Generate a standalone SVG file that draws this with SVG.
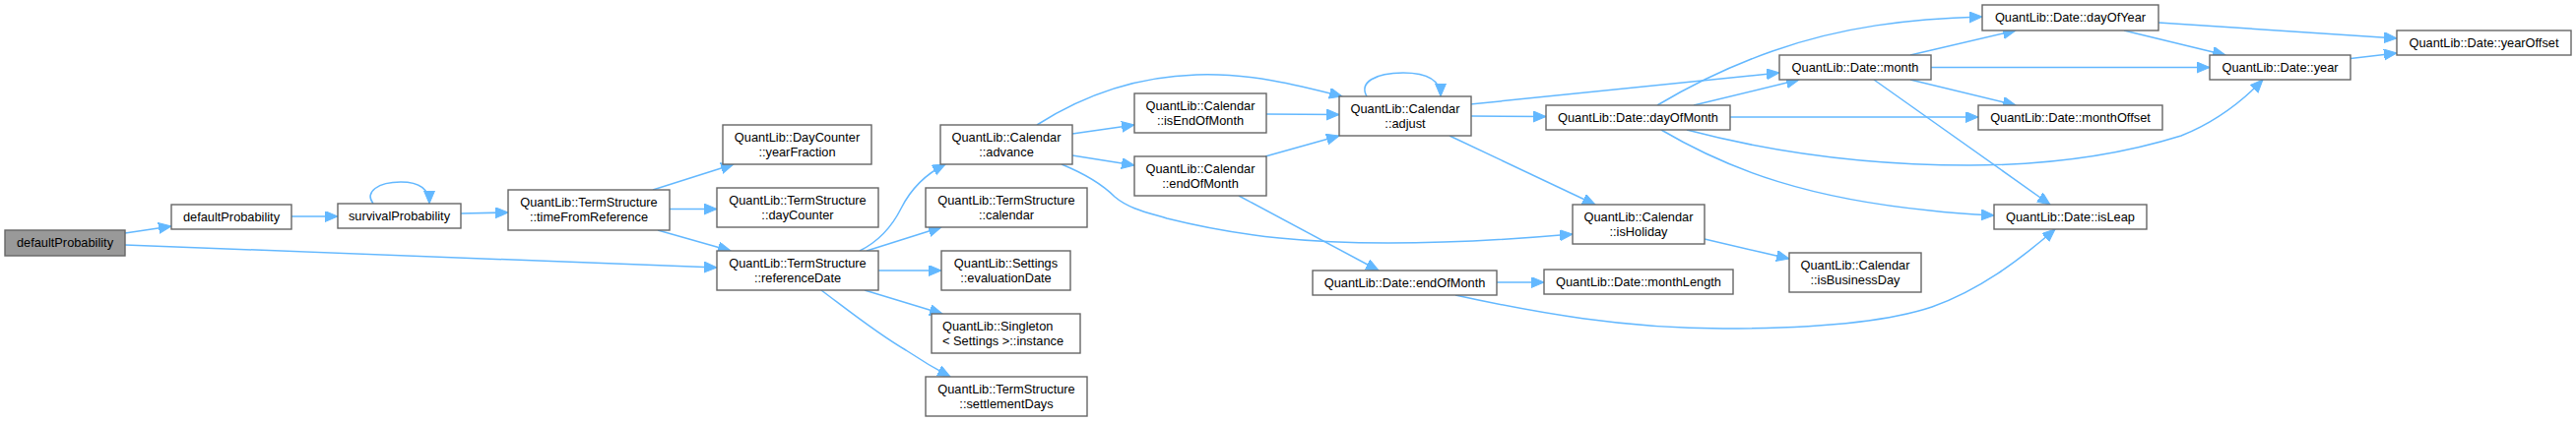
<svg xmlns="http://www.w3.org/2000/svg" width="2616" height="429" viewBox="0 0 2616 429">
<style>
.n rect{fill:#ffffff;stroke:#666666;stroke-width:1.4}
.n.root rect{fill:#999999}
.n text{font-family:"Liberation Sans",Arial,sans-serif;font-size:12.8px;fill:#000000;text-anchor:middle}
.n text.l{text-anchor:start}
.e path{fill:none;stroke:#63b8ff;stroke-width:1.5;marker-end:url(#ah)}
</style>
<defs>
<marker id="ah" markerUnits="userSpaceOnUse" markerWidth="15" markerHeight="12" refX="13" refY="5.5" orient="auto">
<path d="M0,0 L13,5.5 L0,11 z" fill="#63b8ff" stroke="#63b8ff" stroke-width="1"/>
</marker>
</defs>
<rect width="2616" height="429" fill="#ffffff"/>
<g id="edges" class="e">
<path d="M127,237 L174,230"/>
<path d="M127,249 L728,272"/>
<path d="M296,220 L343,220"/>
<path d="M379,207 C370,195 384,185 407,185 C425,185 436,191 436,207"/>
<path d="M468,217 L516,216"/>
<path d="M663,193 L745,167"/>
<path d="M680,212.5 L728,212.5"/>
<path d="M668,234 L742,255"/>
<path d="M873,255 C893,245 906,230 915,212 C924,194 938,178 960,167"/>
<path d="M880,255 L956,231"/>
<path d="M892,275 L956,275"/>
<path d="M878,295 L957,319"/>
<path d="M834,295 C862,316 892,340 920,356 C935,366 950,375 965,383"/>
<path d="M1053,127 C1095,100 1150,78 1215,76 C1270,74 1320,87 1363,98"/>
<path d="M1089,136 L1152,127"/>
<path d="M1089,158 L1152,168"/>
<path d="M1078,167 C1100,176 1118,186 1132,200 C1146,212 1165,216 1185,222 C1265,242 1335,247 1410,247 C1480,247 1540,243 1597,238"/>
<path d="M1285,116 L1360,116.5"/>
<path d="M1285,159 L1360,138"/>
<path d="M1258,199 L1400,275"/>
<path d="M1388,98 C1380,84 1396,74 1425,74 C1448,74 1463,80 1463,98"/>
<path d="M1493,106 L1807,74"/>
<path d="M1493,118 L1570,118.5"/>
<path d="M1472,138 L1620,208"/>
<path d="M1520,287 L1568,287"/>
<path d="M1478,300 C1560,318 1650,334 1750,334 C1850,334 1920,326 1962,312 C2010,295 2050,265 2087,233"/>
<path d="M1731,243 L1817,263"/>
<path d="M1683,107 C1720,85 1760,66 1800,52 C1870,27 1940,19 2013,17"/>
<path d="M1720,107 L1827,81"/>
<path d="M1757,119 L2009,119"/>
<path d="M1713,132 C1800,155 1900,168 2000,168 C2100,168 2170,152 2215,138 C2250,124 2278,102 2298,81"/>
<path d="M1687,132 C1760,175 1840,202 1960,214 C1985,217 2005,218 2025,219"/>
<path d="M1940,56 L2047,31"/>
<path d="M1961,68.5 L2244,68.5"/>
<path d="M1940,81 L2047,107"/>
<path d="M1903,81 L2082,208"/>
<path d="M2192,23 L2434,39"/>
<path d="M2157,31 L2260,56"/>
<path d="M2387,59.5 L2434,54"/>
</g>
<g id="n_root" class="n root"><rect x="5" y="234" width="122" height="26"/><text x="66" y="251">defaultProbability</text></g>
<g id="n_defaultProbability" class="n"><rect x="174" y="208" width="122" height="25"/><text x="235" y="225">defaultProbability</text></g>
<g id="n_survivalProbability" class="n"><rect x="343" y="207" width="125" height="25"/><text x="405.5" y="224">survivalProbability</text></g>
<g id="n_timeFromReference" class="n"><rect x="516" y="193" width="164" height="41"/><text x="598" y="209.5">QuantLib::TermStructure</text><text x="598" y="224.5">::timeFromReference</text></g>
<g id="n_yearFraction" class="n"><rect x="734" y="127" width="151" height="40"/><text x="809.5" y="143.5">QuantLib::DayCounter</text><text x="809.5" y="158.5">::yearFraction</text></g>
<g id="n_dayCounter" class="n"><rect x="728" y="191" width="164" height="40"/><text x="810" y="207.5">QuantLib::TermStructure</text><text x="810" y="222.5">::dayCounter</text></g>
<g id="n_referenceDate" class="n"><rect x="728" y="255" width="164" height="40"/><text x="810" y="271.5">QuantLib::TermStructure</text><text x="810" y="286.5">::referenceDate</text></g>
<g id="n_advance" class="n"><rect x="955" y="127" width="134" height="40"/><text x="1022" y="143.5">QuantLib::Calendar</text><text x="1022" y="158.5">::advance</text></g>
<g id="n_calendar" class="n"><rect x="940" y="191" width="164" height="40"/><text x="1022" y="207.5">QuantLib::TermStructure</text><text x="1022" y="222.5">::calendar</text></g>
<g id="n_evaluationDate" class="n"><rect x="956" y="255" width="131" height="40"/><text x="1021.5" y="271.5">QuantLib::Settings</text><text x="1021.5" y="286.5">::evaluationDate</text></g>
<g id="n_instance" class="n"><rect x="946" y="319" width="151" height="40"/><text class="l" x="957" y="335.5">QuantLib::Singleton</text><text class="l" x="957" y="350.5">&lt; Settings &gt;::instance</text></g>
<g id="n_settlementDays" class="n"><rect x="940" y="383" width="164" height="40"/><text x="1022" y="399.5">QuantLib::TermStructure</text><text x="1022" y="414.5">::settlementDays</text></g>
<g id="n_isEndOfMonth" class="n"><rect x="1152" y="95" width="134" height="40"/><text x="1219" y="111.5">QuantLib::Calendar</text><text x="1219" y="126.5">::isEndOfMonth</text></g>
<g id="n_calEndOfMonth" class="n"><rect x="1152" y="159" width="134" height="40"/><text x="1219" y="175.5">QuantLib::Calendar</text><text x="1219" y="190.5">::endOfMonth</text></g>
<g id="n_adjust" class="n"><rect x="1360" y="98" width="134" height="40"/><text x="1427" y="114.5">QuantLib::Calendar</text><text x="1427" y="129.5">::adjust</text></g>
<g id="n_dateEndOfMonth" class="n"><rect x="1333" y="275" width="187" height="25"/><text x="1426.5" y="292">QuantLib::Date::endOfMonth</text></g>
<g id="n_dayOfMonth" class="n"><rect x="1570" y="107" width="187" height="25"/><text x="1663.5" y="124">QuantLib::Date::dayOfMonth</text></g>
<g id="n_isHoliday" class="n"><rect x="1597" y="208" width="134" height="40"/><text x="1664" y="224.5">QuantLib::Calendar</text><text x="1664" y="239.5">::isHoliday</text></g>
<g id="n_monthLength" class="n"><rect x="1568" y="274" width="192" height="25"/><text x="1664" y="291">QuantLib::Date::monthLength</text></g>
<g id="n_isBusinessDay" class="n"><rect x="1817" y="257" width="134" height="40"/><text x="1884" y="273.5">QuantLib::Calendar</text><text x="1884" y="288.5">::isBusinessDay</text></g>
<g id="n_month" class="n"><rect x="1807" y="56" width="154" height="25"/><text x="1884" y="73">QuantLib::Date::month</text></g>
<g id="n_dayOfYear" class="n"><rect x="2013" y="5" width="179" height="26"/><text x="2102.5" y="22">QuantLib::Date::dayOfYear</text></g>
<g id="n_monthOffset" class="n"><rect x="2009" y="107" width="187" height="25"/><text x="2102.5" y="124">QuantLib::Date::monthOffset</text></g>
<g id="n_isLeap" class="n"><rect x="2025" y="208" width="155" height="25"/><text x="2102.5" y="225">QuantLib::Date::isLeap</text></g>
<g id="n_year" class="n"><rect x="2244" y="56" width="143" height="25"/><text x="2315.5" y="73">QuantLib::Date::year</text></g>
<g id="n_yearOffset" class="n"><rect x="2434" y="31" width="177" height="25"/><text x="2522.5" y="48">QuantLib::Date::yearOffset</text></g>
</svg>
